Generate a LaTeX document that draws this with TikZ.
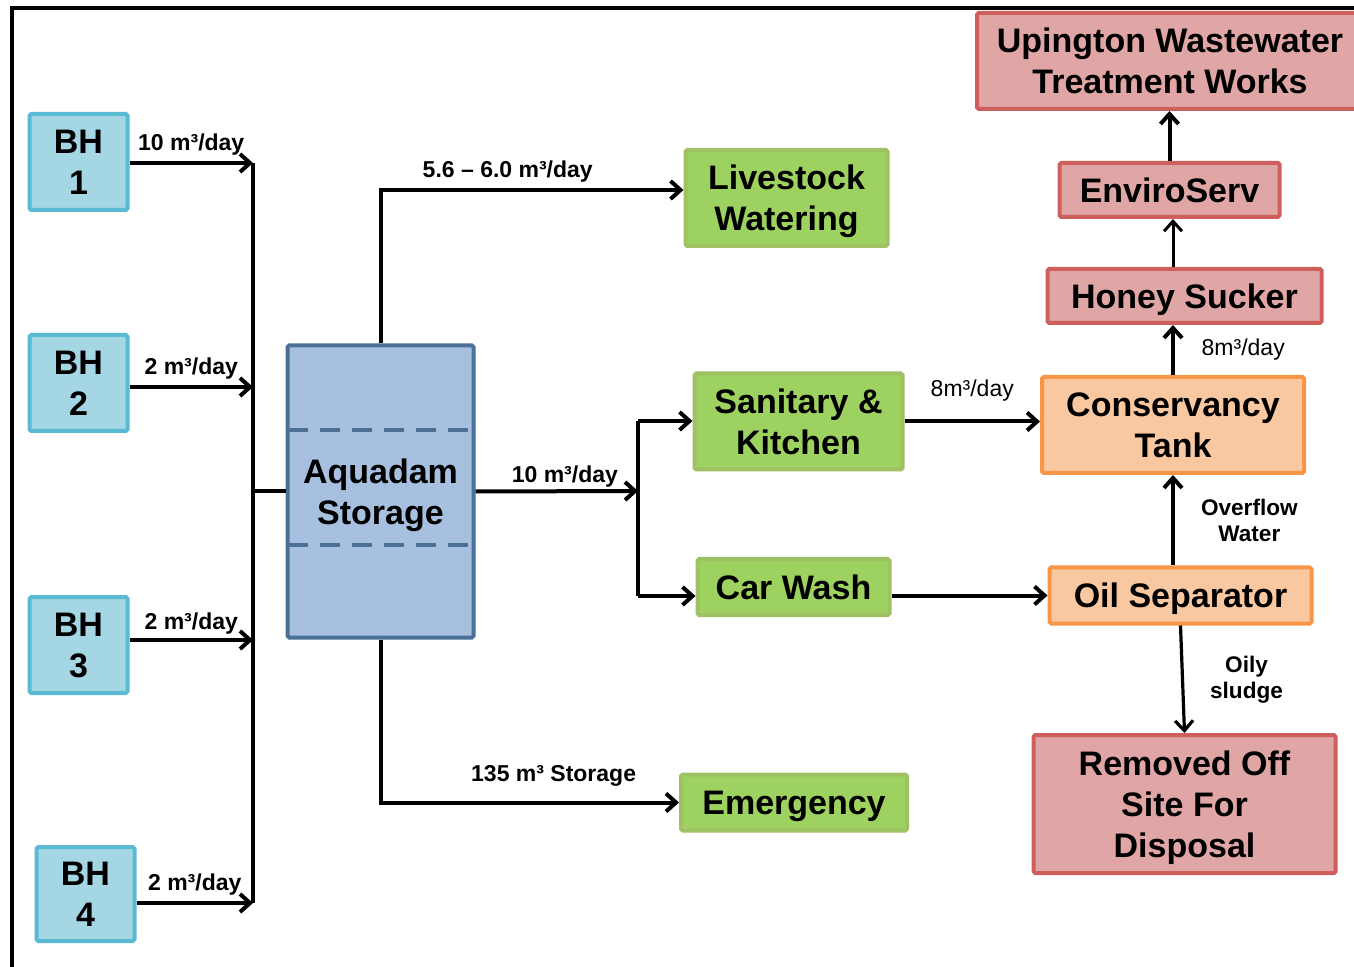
\documentclass[tikz,border=0pt]{standalone}
\usepackage{fontspec}
\setmainfont{Liberation Sans}
\usetikzlibrary{arrows.meta}

\definecolor{bhfill}{RGB}{165,214,228}
\definecolor{bhline}{RGB}{91,186,211}
\definecolor{aquafill}{RGB}{167,192,223}
\definecolor{aqualine}{RGB}{74,112,152}
\definecolor{usefill}{RGB}{158,210,96}
\definecolor{useline}{RGB}{160,192,100}
\definecolor{tankfill}{RGB}{250,200,160}
\definecolor{tankline}{RGB}{247,150,70}
\definecolor{offfill}{RGB}{224,165,165}
\definecolor{offline}{RGB}{205,96,92}

\begin{document}
\begin{tikzpicture}
[x=0.5pt,y=-0.5pt,
 box/.style={line width=2pt, rounded corners=0.8pt, align=center, inner sep=0pt, text depth=0pt,
             font=\bfseries\fontsize{17}{20.5}\selectfont},
 bhbox/.style={box, draw=bhline, fill=bhfill},
 aquabox/.style={box, draw=aqualine, fill=aquafill},
 usebox/.style={box, draw=useline, fill=usefill},
 tankbox/.style={box, draw=tankline, fill=tankfill},
 offbox/.style={box, draw=offline, fill=offfill},
 flow/.style={line width=2pt, -{Straight Barb[length=5pt,width=9pt]}},
 pipe/.style={line width=2pt},
 lbl/.style={font=\bfseries\fontsize{11.5}{13}\selectfont, inner sep=1pt},
 note/.style={font=\bfseries\fontsize{11.3}{13}\selectfont, align=center, inner sep=1pt}
]
\useasboundingbox (0,0) rectangle (1354,967);
\clip (0,0) rectangle (1354,967);
\fill[white] (0,0) rectangle (1354,967);
\draw[line width=2pt] (12,975) -- (12,8) -- (1360,8);% frame, cut at the page edge

% boreholes
\node[bhbox, minimum width=49pt, minimum height=48pt] (bh1) at (78.5,162) {BH\\1};
\node[bhbox, minimum width=49pt, minimum height=48pt] (bh2) at (78.5,383) {BH\\2};
\node[bhbox, minimum width=49pt, minimum height=48pt] (bh3) at (78.5,645) {BH\\3};
\node[bhbox, minimum width=49pt, minimum height=47pt] (bh4) at (85.5,894) {BH\\4};

% storage and users
\node[aquabox, minimum width=93pt, minimum height=146pt] (aqua) at (380.5,491.5) {Aquadam\\Storage};
\node[usebox, minimum width=101pt, minimum height=48pt] (live) at (786.5,198) {Livestock\\Watering};
\node[usebox, minimum width=104pt, minimum height=48pt] (sani) at (798.5,421.5) {Sanitary \&\\Kitchen};
\node[usebox, minimum width=96pt, minimum height=28pt] (car) at (793.5,587) {Car Wash};
\node[usebox, minimum width=113pt, minimum height=28pt] (emer) at (794,802.5) {Emergency};

% treatment chain
\node[tankbox, minimum width=131pt, minimum height=48pt] (cons) at (1173,425) {Conservancy\\Tank};
\node[tankbox, minimum width=131pt, minimum height=28pt] (oil) at (1180.5,595.5) {Oil Separator};
\node[offbox, minimum width=137pt, minimum height=27pt] (honey) at (1184.5,296) {Honey Sucker};
\node[offbox, minimum width=110pt, minimum height=27pt] (enviro) at (1169.5,190) {EnviroServ};
\node[offbox, minimum width=193pt, minimum height=48pt] (uping) at (1170,61) {Upington Wastewater\\Treatment Works};
\node[offbox, minimum width=151pt, minimum height=69pt] (removed) at (1184.5,804) {Removed Off\\Site For\\Disposal};

% collector line
\coordinate (bus1) at (253,163);
\coordinate (bus2) at (253,387);
\coordinate (bus3) at (253,640);
\coordinate (bus4) at (253,903);
\draw[pipe] (bus1) -- (bus4);
\draw[flow] (bh1.east |- bus1) -- (bus1) node[lbl, midway, above=2pt] {10 m³/day};
\draw[flow] (bh2.east |- bus2) -- (bus2) node[lbl, midway, above=2pt] {2 m³/day};
\draw[flow] (bh3.east |- bus3) -- (bus3) node[lbl, midway, above=1pt] {2 m³/day};
\draw[flow] (bh4.east |- bus4) -- (bus4) node[lbl, midway, above=2pt] {2 m³/day};
\draw[pipe] (aqua.west) -- (aqua.west -| bus1);

% dashed levels in the tank
\coordinate (lvl1) at (0,430);
\coordinate (lvl2) at (0,545);
\draw[aqualine, line width=1.6pt, dash pattern=on 10pt off 6pt] ([xshift=1pt]aqua.west |- lvl1) -- ([xshift=-1pt]aqua.east |- lvl1);
\draw[aqualine, line width=1.6pt, dash pattern=on 10pt off 6pt] ([xshift=1pt]aqua.west |- lvl2) -- ([xshift=-1pt]aqua.east |- lvl2);

% supply lines
\draw[flow] (aqua.north) |- ([yshift=4pt]live.west) node[lbl, pos=0.71, above=2pt] {5.6 – 6.0 m³/day};
\coordinate (split) at (638,491);
\coordinate (splitT) at (638,421);
\coordinate (splitB) at (638,596);
\draw[flow] (aqua.east) -- (split) node[lbl, pos=0.55, above=0pt] {10 m³/day};
\draw[pipe] (splitT) -- (splitB);
\draw[flow] (splitT) -- (splitT -| sani.west);
\draw[flow] (splitB) -- (splitB -| car.west);
\draw[flow] (aqua.south) |- (emer.west) node[lbl, pos=0.79, above=6pt] {135 m³ Storage};

% waste lines
\draw[flow] (sani.east) -- (sani.east -| cons.west) node[midway, above=6pt, font=\fontsize{11.5}{13}\selectfont] {8m³/day};
\draw[flow] (car.east |- oil.west) -- (oil.west);
\draw[flow] (oil.north -| cons.south) -- (cons.south) node[note, midway, right=12pt] {Overflow\\Water};
\draw[flow] (cons.north) -- (cons.north |- honey.south) node[midway, right=10pt, font=\fontsize{11.5}{13}\selectfont] {8m³/day};
\draw[flow, line width=1.5pt] (honey.north -| cons.north) -- (cons.north |- enviro.south);
\draw[flow] (enviro.north) -- (enviro.north |- uping.south);
\draw[flow, line width=1.6pt] (oil.south) -- (removed.north) node[note, midway, right=12pt] {Oily\\sludge};

\end{tikzpicture}
\end{document}
